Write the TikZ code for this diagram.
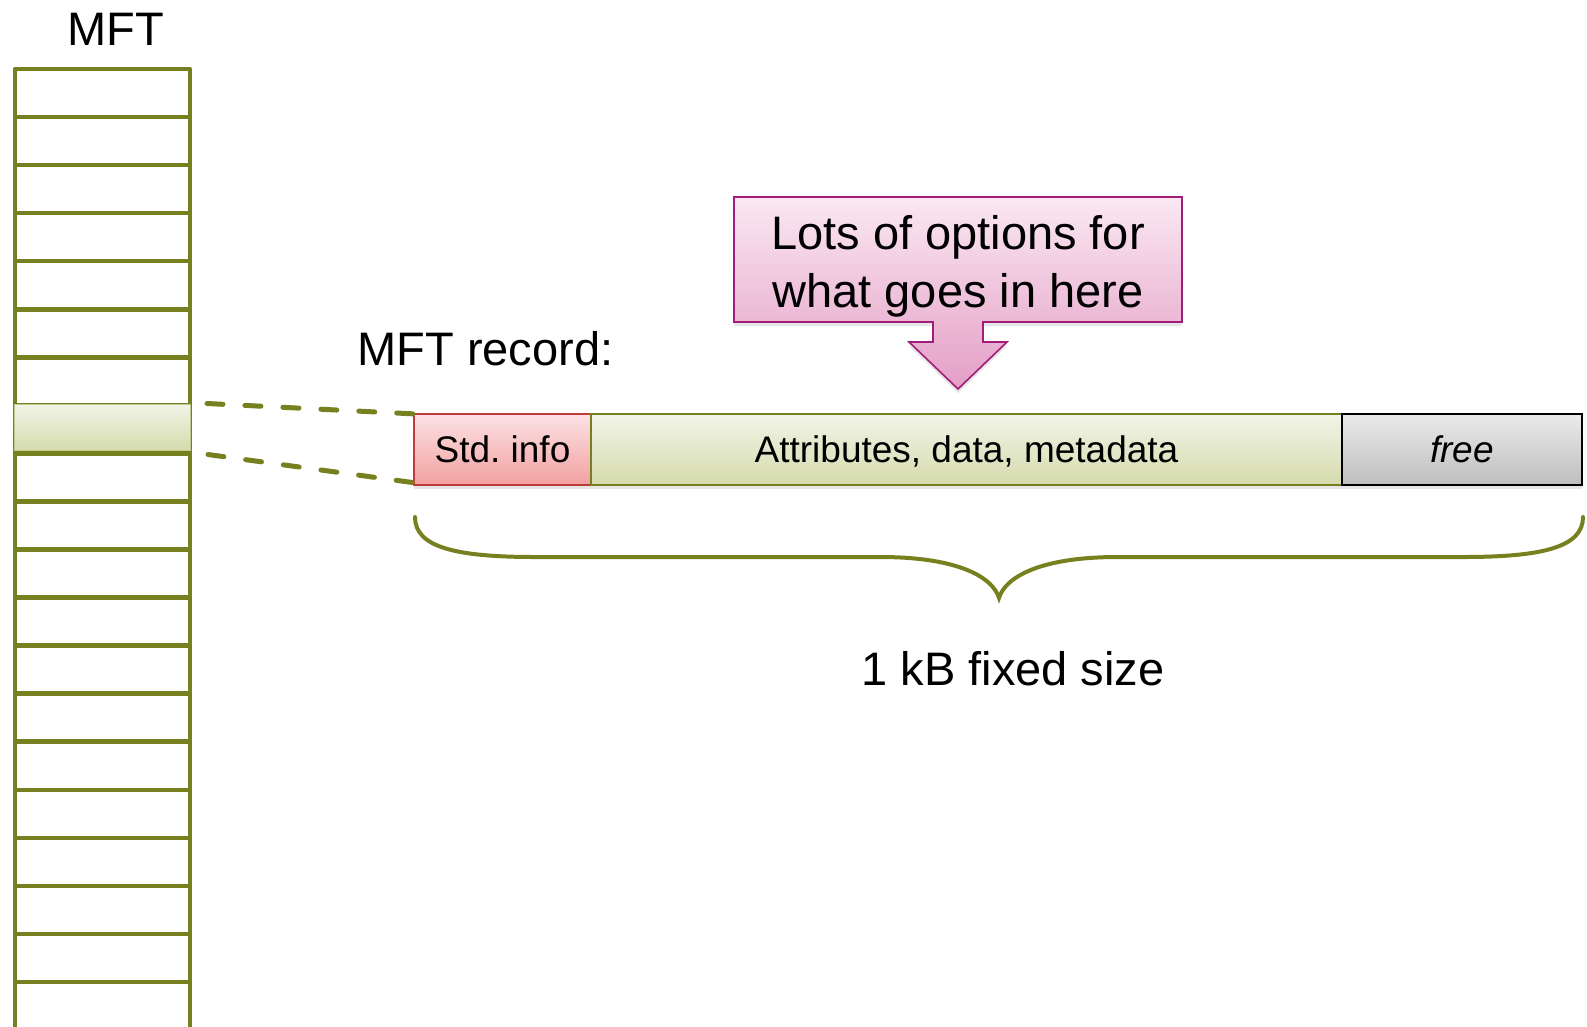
\documentclass[tikz,border=0pt]{standalone}
\usepackage{fontspec}
\setmainfont{Liberation Sans}
\usetikzlibrary{positioning,shadows,backgrounds}
\definecolor{mftgreen}{RGB}{119,128,31}
\definecolor{stdtop}{RGB}{252,226,228}
\definecolor{stdbot}{RGB}{242,160,160}
\definecolor{stdline}{RGB}{190,60,60}
\definecolor{attrtop}{RGB}{242,244,232}
\definecolor{attrbot}{RGB}{213,219,172}
\definecolor{freetop}{RGB}{234,234,234}
\definecolor{freebot}{RGB}{190,190,190}
\definecolor{notetop}{RGB}{250,232,241}
\definecolor{notebot}{RGB}{228,158,198}
\definecolor{noteline}{RGB}{160,30,120}
\begin{document}
\begin{tikzpicture}[x=1pt,y=-1pt,
        big/.style = {font=\fontsize{47}{58}\selectfont},
        cell/.style = {draw=mftgreen, line width=4.5pt},
        rowsel/.style = {draw=attrbot!80!mftgreen, line width=1pt, top color=attrtop, bottom color=attrbot,
                         minimum width=176pt, minimum height=46pt, inner sep=0pt},
        part/.style = {line width=1.6pt, minimum height=71pt, inner sep=0pt, outer sep=0pt,
                       text height=26.5pt, text depth=0pt, font=\fontsize{37}{40}\selectfont,
                       drop shadow={shadow xshift=0pt, shadow yshift=-4pt, opacity=.2}},
        link/.style = {draw=mftgreen, line width=5pt, line cap=round, dash pattern=on 16pt off 22pt},
        brace/.style = {draw=mftgreen, line width=4pt, line cap=round}
    ]
        \useasboundingbox (0,0) rectangle (1587,1026);
        % MFT table
        \node[big, anchor=base] (mft) at (116,45) {MFT};
        \draw[cell, line join=round] (15,1030) -- (15,69) -- (190,69) -- (190,1030);
        \foreach \r in {1,...,19}
            \draw[cell] (15,{69+48.05*\r}) -- (190,{69+48.05*\r});
        \node[rowsel] (sel) at (102.5,427) {};
        % record
        \node[big, anchor=base west] (rec) at (354,365) {MFT record:};
        \node[part, draw=stdline, top color=stdtop, bottom color=stdbot, minimum width=177pt,
              anchor=north west] (std) at (414,414) {Std.\ info};
        \node[part, draw=mftgreen, top color=attrtop, bottom color=attrbot, minimum width=751pt,
              right=0pt of std] (attr) {Attributes, data, metadata};
        \node[part, draw=black, top color=freetop, bottom color=freebot, minimum width=240pt,
              right=0pt of attr] (free) {\itshape free};
        \draw[link] ([xshift=16pt]sel.north east) -- ([xshift=2pt]std.north west);
        \draw[link] ([xshift=17pt,yshift=-4pt]sel.south east) -- ([xshift=2pt,yshift=2pt]std.south west);
        % callout
        \node[big, align=center] (note) at (958,266) {Lots of options for\\what goes in here};
        \begin{scope}[on background layer]
        \path[draw=noteline, line width=1.6pt, top color=notetop, bottom color=notebot,
              drop shadow={shadow xshift=0pt, shadow yshift=-4pt, opacity=.2}]
            ([shift={(-224,-69)}]note.center) -| ([shift={(224,56)}]note.center)
            -- ([shift={(25,56)}]note.center) -- ++(0,20) -- ++(24,0) -- ++(-49,47)
            -- ++(-49,-47) -- ++(24,0) -- ++(0,-20) -- ([shift={(-224,56)}]note.center) -- cycle;
        \end{scope}
        % brace
        \draw[brace] (415,517) .. controls (415,547) and (455,557) .. (535,557) -- (880,557)
            .. controls (960,557) and (993,578) .. (999,598)
            .. controls (1005,578) and (1038,557) .. (1118,557) -- (1463,557)
            .. controls (1543,557) and (1583,547) .. (1583,517);
        \node[big, anchor=base] (size) at (1013,685) {1 kB fixed size};
    \end{tikzpicture}
\end{document}
